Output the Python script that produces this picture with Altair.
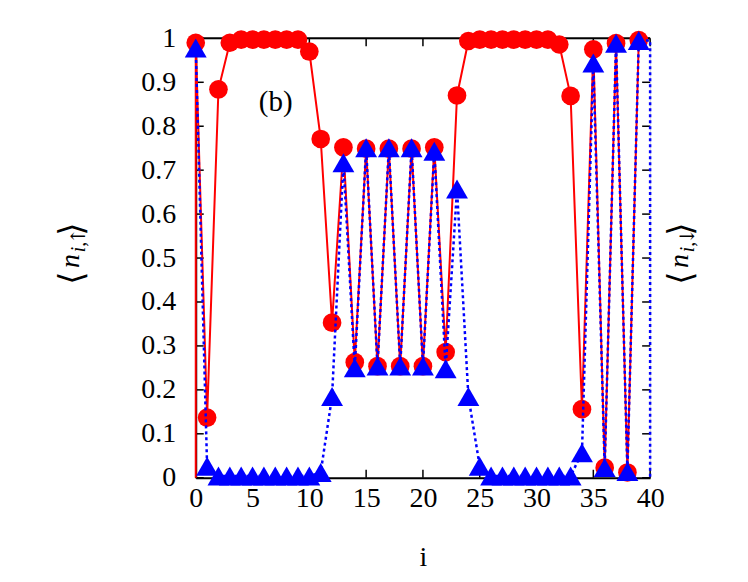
import altair as alt
import pandas as pd

# ---- data ----
site = list(range(40))
n_up = [0.99, 0.137, 0.884, 0.99, 0.997, 0.997, 0.997, 0.997, 0.997, 0.997,
        0.970, 0.771, 0.353, 0.752, 0.263, 0.749, 0.254, 0.749, 0.254, 0.749,
        0.254, 0.752, 0.286, 0.870, 0.994, 0.997, 0.997, 0.997, 0.997, 0.997,
        0.997, 0.997, 0.986, 0.869, 0.156, 0.975, 0.023, 0.989, 0.012, 0.996]
n_dn = [0.978, 0.026, 0.004, 0.004, 0.004, 0.004, 0.004, 0.004, 0.004, 0.004,
        0.004, 0.012, 0.185, 0.717, 0.250, 0.751, 0.254, 0.751, 0.254, 0.751,
        0.254, 0.743, 0.248, 0.657, 0.185, 0.026, 0.004, 0.004, 0.004, 0.004,
        0.004, 0.004, 0.004, 0.004, 0.057, 0.944, 0.023, 0.989, 0.014, 0.995]
# line-only boundary vertices (no symbols drawn there)
up_lead_x = [0]
up_lead_y = [0.0]
dn_tail_x = [40, 40]
dn_tail_y = [0.995, 0.0]

x_ticks = [0, 5, 10, 15, 20, 25, 30, 35, 40]
y_ticks = [0, 0.1, 0.2, 0.3, 0.4, 0.5, 0.6, 0.7, 0.8, 0.9, 1]

RED = "#ff0000"
BLUE = "#0000ff"
FONT = "'Liberation Serif', 'Times New Roman', serif"
FS = 28
W, H = 455, 440

pts = pd.DataFrame({"x": site + site, "y": n_up + n_dn,
                    "s": ["up"] * 40 + ["dn"] * 40})
up_line = pd.DataFrame({"x": up_lead_x + site, "y": up_lead_y + n_up})
up_line["seq"] = range(len(up_line))
dn_line = pd.DataFrame({"x": site + dn_tail_x, "y": n_dn + dn_tail_y})
dn_line["seq"] = range(len(dn_line))

xscale = alt.Scale(domain=[0, 40], nice=False, zero=False)
yscale = alt.Scale(domain=[0, 1], nice=False, zero=False)

xaxis = alt.Axis(values=x_ticks, labelFont=FONT, labelFontSize=FS, labelColor="black",
                 domainColor="black", domainWidth=2, ticks=False, tickSize=0, grid=False,
                 labelPadding=7, labelFlush=False, labelOverlap=False,
                 title="i", titleFont=FONT, titleFontSize=FS, titleFontWeight="normal",
                 titleColor="black", titleY=88, titleBaseline="alphabetic")
yaxis = alt.Axis(values=y_ticks, format="~g", labelFont=FONT, labelFontSize=FS,
                 labelColor="black", domainColor="black", domainWidth=2, ticks=False,
                 tickSize=0, grid=False, labelPadding=20, labelFlush=False,
                 labelOverlap=False, title=None)


def X(field):
    return alt.X(field, type="quantitative", scale=xscale, axis=xaxis)


def Y(field):
    return alt.Y(field, type="quantitative", scale=yscale, axis=yaxis)


one = alt.Data(values=[{}])

red_line = alt.Chart(up_line).mark_line(color=RED, strokeWidth=2).encode(
    x=X("x"), y=Y("y"), order="seq:Q")
red_pts = alt.Chart(pts).transform_filter("datum.s == 'up'").mark_point(
    shape="circle", filled=True, size=350, color=RED, opacity=1).encode(x=X("x"), y=Y("y"))
blue_line = alt.Chart(dn_line).mark_line(color=BLUE, strokeWidth=2.5, strokeDash=[3, 3]).encode(
    x=X("x"), y=Y("y"), order="seq:Q")
blue_pts = alt.Chart(pts).transform_filter("datum.s == 'dn'").mark_point(
    shape="triangle-up", filled=True, size=480, color=BLUE, opacity=1).encode(x=X("x"), y=Y("y"))

yt = pd.DataFrame({"t": y_ticks})
xt = pd.DataFrame({"t": x_ticks})
tick_l = alt.Chart(yt).mark_rule(color="black", strokeWidth=1.5).encode(
    y=Y("t"), x=alt.value(0), x2=alt.value(8))
tick_r = alt.Chart(yt).mark_rule(color="black", strokeWidth=1.5).encode(
    y=Y("t"), x=alt.value(W - 8), x2=alt.value(W))
tick_b = alt.Chart(xt).mark_rule(color="black", strokeWidth=1.5).encode(
    x=X("t"), y=alt.value(H), y2=alt.value(H - 8))
tick_t = alt.Chart(xt).mark_rule(color="black", strokeWidth=1.5).encode(
    x=X("t"), y=alt.value(0), y2=alt.value(8))
top_border = alt.Chart(one).mark_rule(color="black", strokeWidth=2).encode(
    x=alt.value(0), x2=alt.value(W), y=alt.value(0))


def txt(s, x, y, size=FS, style="normal", angle=0, font=FONT):
    return alt.Chart(one).mark_text(text=s, font=font, fontSize=size, fontStyle=style,
                                    angle=angle, align="center", baseline="alphabetic",
                                    color="black").encode(x=alt.value(x), y=alt.value(y))


label_b = alt.Chart(one).mark_text(text="(b)", font=FONT, fontSize=29, align="center",
                                   baseline="middle", color="black").encode(
    x=alt.value(80), y=alt.value(64))


def ylabel(x0, arrow):
    return [
        txt("⟨", x0 + 4, 240, size=34, angle=270, font="DejaVu Sans"),
        txt("n", x0, 223, style="italic", angle=270),
        txt("i,", x0 + 6, 209, size=20, style="italic", angle=270),
        txt(arrow, x0 + 6, 198, size=20, angle=270, font="DejaVu Serif"),
        txt("⟩", x0 + 4, 191, size=34, angle=270, font="DejaVu Sans"),
    ]


layers = [top_border, tick_l, tick_r, tick_b, tick_t,
          red_line, red_pts, blue_line, blue_pts, label_b]
layers += ylabel(-117, "↑")
layers += ylabel(493, "↓")

chart = alt.layer(*layers).properties(
    width=W, height=H,
    autosize=alt.AutoSizeParams(type="none"),
    padding={"left": 188, "top": 30, "right": 90, "bottom": 96},
).configure_view(strokeWidth=0).configure(background="white")

chart.save("out.html", embed_options={"renderer": "svg", "actions": False})
